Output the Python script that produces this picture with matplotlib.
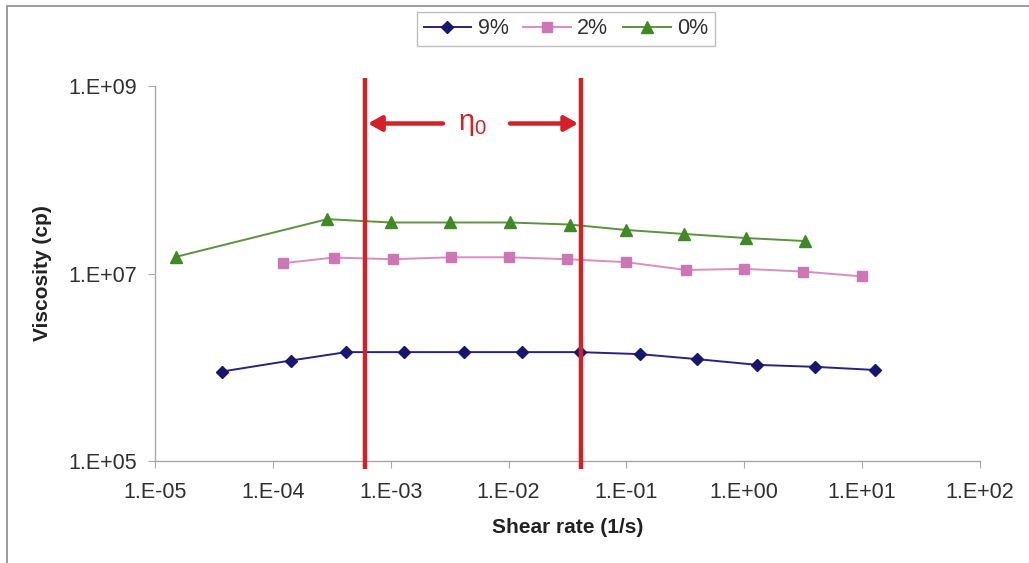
import numpy as np
import matplotlib.pyplot as plt
from matplotlib.patches import Rectangle

plt.rcParams['font.family'] = ['Liberation Sans', 'DejaVu Sans']
plt.rcParams['mathtext.fontset'] = 'dejavusans'

# shear rate (1/s) and viscosity (cp)
x9 = [3.7e-5, 1.42e-4, 4.2e-4, 1.3e-3, 4.2e-3, 1.3e-2, 4.0e-2, 0.13, 0.40, 1.29, 4.0, 12.9]
y9 = [9.0e5, 1.18e6, 1.45e6, 1.45e6, 1.45e6, 1.45e6, 1.45e6, 1.38e6, 1.22e6, 1.06e6, 1.01e6, 9.35e5]

x2 = [1.23e-4, 3.3e-4, 1.05e-3, 3.25e-3, 1.0e-2, 3.15e-2, 0.10, 0.32, 1.0, 3.15, 10.0]
y2 = [1.29e7, 1.48e7, 1.42e7, 1.49e7, 1.49e7, 1.42e7, 1.32e7, 1.09e7, 1.12e7, 1.05e7, 9.3e6]

x0 = [1.52e-5, 2.9e-4, 1.0e-3, 3.2e-3, 1.02e-2, 3.3e-2, 0.10, 0.31, 1.03, 3.25]
y0 = [1.51e7, 3.8e7, 3.5e7, 3.5e7, 3.5e7, 3.33e7, 2.91e7, 2.64e7, 2.39e7, 2.22e7]

eta_lo = 6.05e-4
eta_hi = 4.1e-2

xticks = [1e-5, 1e-4, 1e-3, 1e-2, 1e-1, 1e0, 1e1, 1e2]
xlabels = ['1.E-05', '1.E-04', '1.E-03', '1.E-02', '1.E-01', '1.E+00', '1.E+01', '1.E+02']
yticks = [1e5, 1e7, 1e9]
ylabels = ['1.E+05', '1.E+07', '1.E+09']

fig = plt.figure(figsize=(10.29, 5.63), dpi=100)
ax = fig.add_axes([155/1029, 1-461/563, 825/1029, 375/563])

# outer frame
fig.patches.append(Rectangle((7/1029, -0.1), 1.2, 1-6/563+0.1, transform=fig.transFigure,
                             fill=False, edgecolor='#8a8a8a', lw=1.2))

ax.plot(x9, y9, color='#27237f', lw=1.4, marker='D', ms=6.5, mfc='#1a1670', mec='#1a1670', label='9%')
ax.plot(x2, y2, color='#d58fc3', lw=1.4, marker='s', ms=7.5, mfc='#cc77b4', mec='#cc77b4', label='2%')
ax.plot(x0, y0, color='#5e9140', lw=1.4, marker='^', ms=8.5, mfc='#3f8a25', mec='#3f8a25', label='0%')

ax.set_xscale('log')
ax.set_yscale('log')
ax.set_xlim(1e-5, 1e2)
ax.set_ylim(1e5, 1e9)
ax.set_xticks(xticks)
ax.set_xticklabels(xlabels)
ax.set_yticks(yticks)
ax.set_yticklabels(ylabels)
ax.minorticks_off()

for s in ['top', 'right']:
    ax.spines[s].set_visible(False)
for s in ['left', 'bottom']:
    ax.spines[s].set_color('#a8a8a8')
    ax.spines[s].set_linewidth(1.0)
ax.tick_params(axis='both', direction='out', length=5, color='#a8a8a8', labelsize=15.5,
               labelcolor='#303030')
ax.tick_params(axis='x', pad=10)
ax.tick_params(axis='y', pad=8)

ax.set_xlabel('Shear rate (1/s)', fontsize=15, fontweight='bold', color='#222222', labelpad=11)
ax.set_ylabel('Viscosity (cp)', fontsize=15, fontweight='bold', color='#222222', labelpad=12)

# zero-shear region markers
red = '#d42027'
for xv in [eta_lo, eta_hi]:
    ax.plot([xv, xv], [-0.021, 1.021], color=red, lw=3.2, transform=ax.get_xaxis_transform(),
            clip_on=False, solid_capstyle='butt', zorder=5)

ay = 0.9
ax.annotate('', xy=(eta_lo * 1.06, ay), xytext=(10**(-2.556), ay), xycoords=ax.get_xaxis_transform(),
            arrowprops=dict(arrowstyle='-|>,head_length=0.8,head_width=0.45', color=red, lw=3.2,
                            shrinkA=0, shrinkB=0))
ax.annotate('', xy=(eta_hi * 0.95, ay), xytext=(10**(-1.988), ay), xycoords=ax.get_xaxis_transform(),
            arrowprops=dict(arrowstyle='-|>,head_length=0.8,head_width=0.45', color=red, lw=3.2,
                            shrinkA=0, shrinkB=0))
ax.text(10**(-2.31), ay, r'$\mathregular{\eta_0}$', color=red, fontsize=21, ha='center', va='center',
        transform=ax.get_xaxis_transform())

leg = fig.legend(loc='center', bbox_to_anchor=(566/1029, 1-29/563), ncol=3, fontsize=15.5,
                 frameon=True, fancybox=False, edgecolor='#b0b0b0', handlelength=2.2,
                 columnspacing=0.7, handletextpad=0.3, borderpad=0.3, borderaxespad=0)
leg.get_frame().set_linewidth(1.0)
for t in leg.get_texts():
    t.set_color('#303030')

fig.savefig('out.png', dpi=100)
